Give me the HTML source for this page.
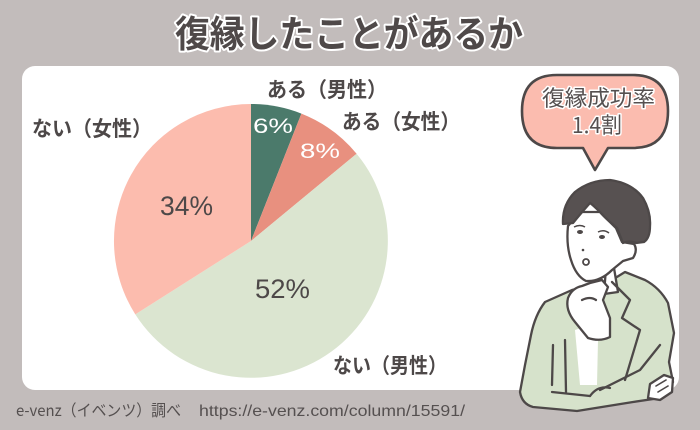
<!DOCTYPE html>
<html><head><meta charset="utf-8"><style>
html,body{margin:0;padding:0;background:#c2bcbb;}
body{width:700px;height:430px;overflow:hidden;}
svg{display:block;}
text{font-family:"Liberation Sans","Noto Sans CJK JP",sans-serif;}
.jp{font-family:"Noto Sans CJK JP","Liberation Sans",sans-serif;}
</style></head><body>
<svg width="700" height="430" viewBox="0 0 700 430" xmlns="http://www.w3.org/2000/svg">
<rect width="700" height="430" fill="#c2bcbb"/>
<!-- title -->
<text class="jp" x="175" y="47" font-size="37" font-weight="700" fill="#4f4949" stroke="#ffffff" stroke-width="4" paint-order="stroke" stroke-linejoin="round" textLength="348" lengthAdjust="spacingAndGlyphs">復縁したことがあるか</text>
<!-- panel -->
<rect x="22" y="66" width="657" height="324" rx="13" ry="13" fill="#ffffff"/>
<!-- pie -->
<g>
<path d="M251 241 L251 104 A137 137 0 0 1 301.4 113.6 Z" fill="#4b7a6b"/>
<path d="M251 241 L301.4 113.6 A137 137 0 0 1 356.6 153.7 Z" fill="#e8907f"/>
<path d="M251 241 L356.6 153.7 A137 137 0 1 1 135.3 314.4 Z" fill="#dbe5d0"/>
<path d="M251 241 L135.3 314.4 A137 137 0 0 1 251 104 Z" fill="#fcbcae"/>
</g>
<!-- percent labels -->
<text x="253" y="133" font-size="21" fill="#ffffff" textLength="40" lengthAdjust="spacingAndGlyphs">6%</text>
<text x="300" y="158" font-size="21" fill="#ffffff" textLength="40" lengthAdjust="spacingAndGlyphs">8%</text>
<text x="160" y="215" font-size="27" fill="#4d4848" textLength="53" lengthAdjust="spacingAndGlyphs">34%</text>
<text x="255" y="298" font-size="27" fill="#4d4848" textLength="55" lengthAdjust="spacingAndGlyphs">52%</text>
<!-- category labels -->
<g class="jp" font-size="21" font-weight="700" fill="#4d4848">
<text class="jp" x="267" y="97" textLength="120" lengthAdjust="spacingAndGlyphs">ある（男性）</text>
<text class="jp" x="342" y="129" textLength="118" lengthAdjust="spacingAndGlyphs">ある（女性）</text>
<text class="jp" x="32" y="136" textLength="120" lengthAdjust="spacingAndGlyphs">ない（女性）</text>
<text class="jp" x="333" y="373" textLength="114" lengthAdjust="spacingAndGlyphs">ない（男性）</text>
</g>
<!-- speech bubble -->
<path d="M557 75 L633 75 Q668 75 668 111 Q668 148 633 148 L608 148 L595 170 L583 148 L557 148 Q522 148 522 111 Q522 75 557 75 Z" fill="#fbbcaf" stroke="#4d4848" stroke-width="2.6" stroke-linejoin="round"/>
<text class="jp" x="542" y="106" font-size="22" fill="#555050" stroke="#ffffff" stroke-width="3" paint-order="stroke" stroke-linejoin="round" textLength="113" lengthAdjust="spacingAndGlyphs">復縁成功率</text>
<text class="jp" x="572" y="133" font-size="22" fill="#555050" stroke="#ffffff" stroke-width="3" paint-order="stroke" stroke-linejoin="round" textLength="50" lengthAdjust="spacingAndGlyphs">1.4割</text>
<!-- person -->
<g stroke="#4d4848" stroke-width="2.3" stroke-linejoin="round" stroke-linecap="round">
<!-- jacket -->
<path d="M572 290 L545 302 Q535 315 531 335 L525 365 L520 392 Q522 404 533 407 L577 411 L633 402 L660 398 L673 382 L669 362 L674 333 L668 303 Q660 288 645 280 L625 272 L612 280 Z" fill="#d6e2cb"/>
<!-- shirt -->
<path d="M575 330 L590 325 L598 340 L597 385 L580 385 Z" fill="#ffffff" stroke="none"/>
<!-- neck -->
<path d="M606 268 L614 268 L618 292 L604 294 Z" fill="#ffffff"/>
<!-- face -->
<path d="M568 226 Q566 245 571 260 Q576 276 586 281 Q600 282 612 270 L623 261 L633 258 Q638 250 634 244 L622 242 L616 228 L600 212 L580 212 Z" fill="#ffffff"/>
<!-- hair -->
<path d="M563 224 Q562 205 575 192 Q590 180 610 180 Q632 183 643 198 Q651 212 650 226 Q650 238 644 242 L636 243 Q630 240 623 243 L617 228 Q605 218 600 212 Q593 205 590 203 Q582 212 573 223 Z" fill="#575151"/>
<!-- lapels/arm lines -->
<path d="M612 282 L630 300 L622 318 L640 330 L625 380" fill="none"/>
<path d="M553 345 L552 385" fill="none"/>
<path d="M565 340 L566 392" fill="none"/>
<path d="M552 392 L590 396" fill="none"/>
<path d="M600 390 L640 370 L660 345" fill="none"/>
<path d="M590 396 Q598 385 610 388" fill="none"/>
<!-- hand at chin -->
<path d="M568 298 Q572 288 582 286 L590 283 Q598 281 602 280 L608 287 L603 300 L610 318 L610 337 Q600 342 588 338 L575 322 Q565 310 568 298 Z" fill="#ffffff"/>
<path d="M582 300 Q590 296 596 300" fill="none"/>
<!-- bottom right hand -->
<path d="M650 384 L664 375 L673 378 L672 392 L660 400 L648 398 Z" fill="#ffffff"/>
<path d="M656 386 L666 380 M658 392 L668 386" fill="none" stroke-width="1.6"/>
</g>
<!-- face details -->
<g fill="#4d4848">
<ellipse cx="580" cy="232" rx="3" ry="2"/>
<ellipse cx="602" cy="237" rx="3" ry="2"/>
<circle cx="583" cy="250" r="1.3"/>
</g>
<circle cx="586" cy="262" r="3" fill="#ffffff" stroke="#4d4848" stroke-width="1.8"/>
<path d="M574 227 Q580 224 585 227 M598 232 Q604 229 609 233" fill="none" stroke="#4d4848" stroke-width="1.5"/>
<!-- footer -->
<text class="jp" x="16" y="416" font-size="16" fill="#555050" textLength="165" lengthAdjust="spacingAndGlyphs">e-venz（イベンツ）調べ</text>
<text x="199" y="416" font-size="16" fill="#555050" textLength="266" lengthAdjust="spacingAndGlyphs">https://e-venz.com/column/15591/</text>
</svg>
</body></html>
